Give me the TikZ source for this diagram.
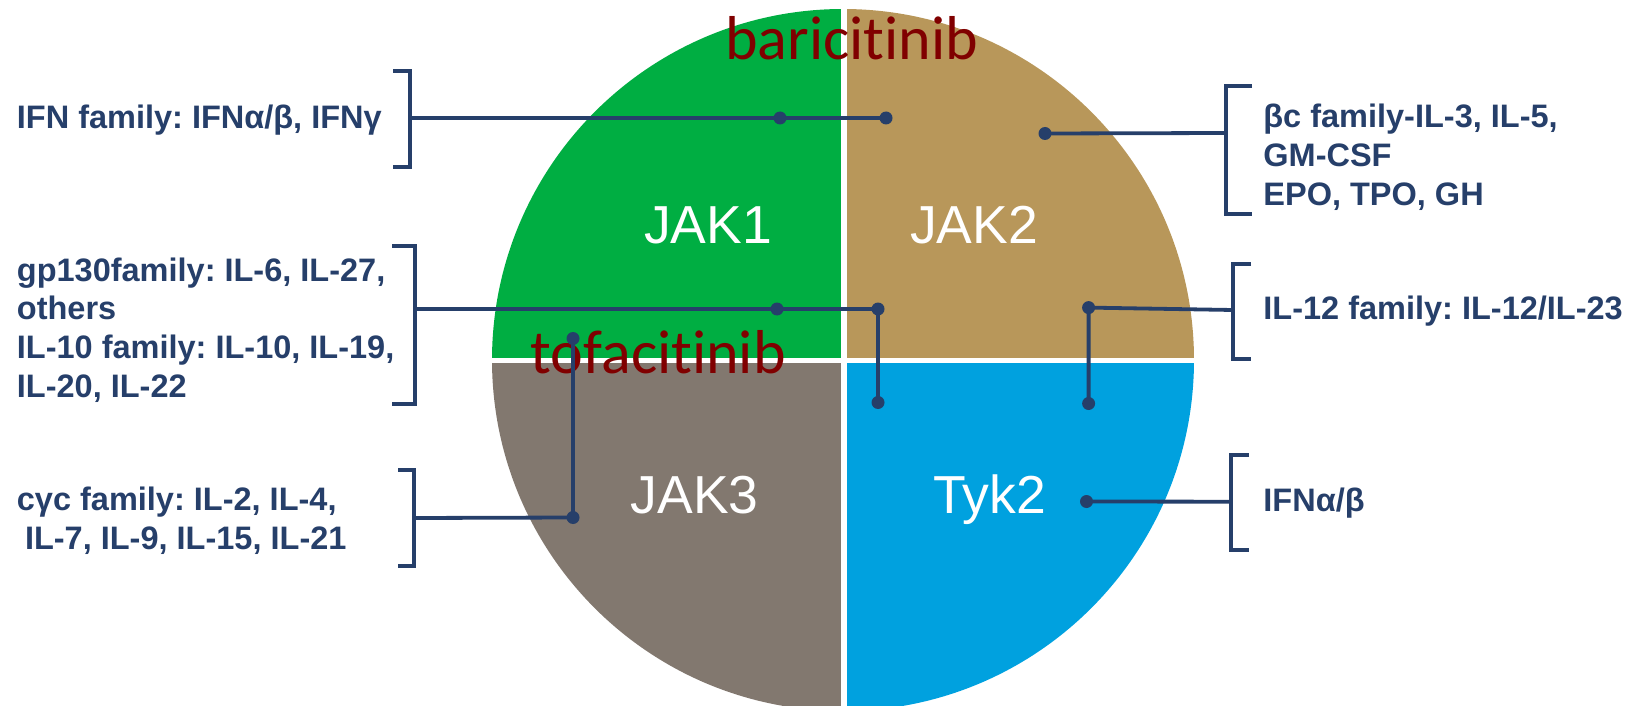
\documentclass[tikz,border=0pt]{standalone}
\usepackage{fontspec}
\setmainfont{Liberation Sans}
\newfontfamily\drugfont[Ligatures=NoCommon]{Carlito}
\frenchspacing
\definecolor{jakgreen}{HTML}{00AE42}
\definecolor{jaktan}{HTML}{B8975A}
\definecolor{jakgray}{HTML}{82786F}
\definecolor{jakblue}{HTML}{00A1DF}
\definecolor{navy}{HTML}{263F6A}
\definecolor{drugred}{HTML}{800000}
\begin{document}
\begin{tikzpicture}[x=0.5pt,y=-0.5pt,
  quadlabel/.style={text=white, font=\fontsize{26.75}{32}\selectfont, inner sep=0pt, anchor=base},
  drug/.style={text=drugred, font=\drugfont\fontsize{31}{37}\selectfont, inner sep=0pt, anchor=base},
  family/.style={text=navy, font=\bfseries\fontsize{16.25}{19.3}\selectfont, inner sep=0pt, align=left, anchor=base west},
  link/.style={navy, line width=1.9pt},
  brace/.style={navy, line width=2pt},
  dot/.style={circle, fill=navy, inner sep=0pt, minimum size=6.5pt}]
\useasboundingbox (0,0) rectangle (1635,706);

% the four kinase quadrants
\begin{scope}
  \clip (0,0) rectangle (1635,706);
  \fill[jakgreen] (843,360) -- (492,360) arc[start angle=180, end angle=270, radius=351] -- cycle;
  \fill[jaktan]   (843,360) -- (843,9) arc[start angle=270, end angle=360, radius=351] -- cycle;
  \fill[jakblue]  (843,360) -- (1194,360) arc[start angle=0, end angle=90, radius=351] -- cycle;
  \fill[jakgray]  (843,360) -- (843,711) arc[start angle=90, end angle=180, radius=351] -- cycle;
  \draw[white, line width=3pt] (843.5,0) -- (843.5,720);
  \draw[white, line width=2.5pt] (480,360) -- (1210,360);
\end{scope}

% kinase names
\node[quadlabel] (jak1) at (708,243.3) {JAK1};
\node[quadlabel] (jak2) at (974,243.3) {JAK2};
\node[quadlabel] (jak3) at (694.7,513.7) {JAK3};
\node[quadlabel] (tyk2) at (989.5,513.7) {Tyk2};

% inhibitors
\node[drug] (bari) at (851.7,60) {baricitinib};
\node[drug] (tofa) at (658.3,373.3) {tofacitinib};

% cytokine families, left side (multi-line nodes sit on their last baseline)
\node[family] (ifn) at (16.5,128.3) {IFN family: IFNα/β, IFNγ};
\node[family] (gp130) at (16.5,397) {gp130family: IL-6, IL-27,\\others\\IL-10 family: IL-10, IL-19,\\IL-20, IL-22};
\node[family] (gcc) at (16.5,549) {cγc family: IL-2, IL-4,\\\hspace*{0.25em}IL-7, IL-9, IL-15, IL-21};

% cytokine families, right side
\node[family] (betac) at (1263,205.2) {βc family-IL-3, IL-5,\\GM-CSF\\EPO, TPO, GH};
\node[family] (il12) at (1263,319.5) {IL-12 family: IL-12/IL-23};
\node[family] (ifnab) at (1263,511) {IFNα/β};

% brackets
\draw[brace] (393,71) -- (410,71) -- (410,167) -- (393,167);
\draw[brace] (392,245.7) -- (415,245.7) -- (415,404) -- (392,404);
\draw[brace] (398,470) -- (414,470) -- (414,566) -- (398,566);
\draw[brace] (1252,85.7) -- (1226,85.7) -- (1226,214) -- (1252,214);
\draw[brace] (1251,264) -- (1233,264) -- (1233,359) -- (1251,359);
\draw[brace] (1249,455) -- (1231,455) -- (1231,550) -- (1249,550);

% bracket tips
\coordinate (bIFN) at (410,118);
\coordinate (bGP) at (415,309);
\coordinate (bGC) at (414,518);
\coordinate (bBC) at (1226,133);
\coordinate (bIL) at (1233,310);
\coordinate (bAB) at (1231,501.7);

% receptor contact points
\node[dot] (d1) at (780,118) {};
\node[dot] (d2) at (886,118) {};
\node[dot] (d3) at (777,309) {};
\node[dot] (d4) at (878,309) {};
\node[dot] (d5) at (878,402.5) {};
\node[dot] (d6) at (573,517.5) {};
\node[dot] (d7) at (573,338.5) {};
\node[dot] (d8) at (1045,133.5) {};
\node[dot] (d9) at (1088.6,307.6) {};
\node[dot] (d10) at (1088.6,403.5) {};
\node[dot] (d11) at (1086.5,501.5) {};

% connectors
\draw[link] (bIFN) -- (d1.center) -- (d2.center);
\draw[link] (bGP) -- (d3.center) -- (d4.center) -- (d5.center);
\draw[link] (bGC) -- (d6.center) -- (d7.center);
\draw[link] (bBC) -- (d8.center);
\draw[link] (bIL) -- (d9.center) -- (d10.center);
\draw[link] (bAB) -- (d11.center);
\end{tikzpicture}
\end{document}
